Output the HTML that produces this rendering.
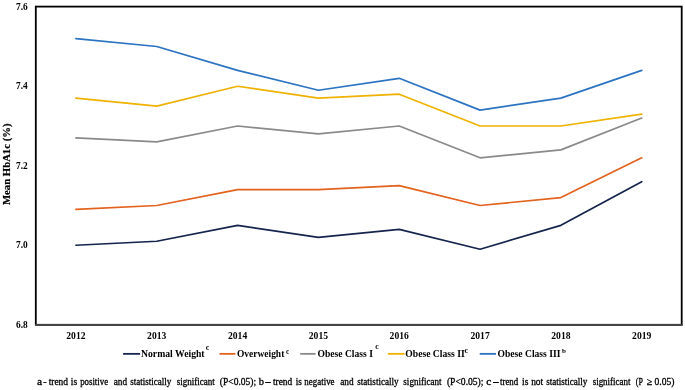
<!DOCTYPE html><html><head><meta charset="utf-8"><style>html,body{margin:0;padding:0;background:#fff;width:685px;height:390px;overflow:hidden}svg{display:block;will-change:transform}text{font-family:"Liberation Serif",serif}</style></head><body>
<svg width="685" height="390" viewBox="0 0 685 390">
<rect x="35.8" y="6.6" width="645.9" height="318.2" fill="none" stroke="#000" stroke-width="1.8"/>
<line x1="35" y1="324.9" x2="682.5" y2="324.9" stroke="#444" stroke-width="1.8"/>
<text x="27.8" y="9.6" font-size="10" font-weight="bold" text-anchor="end" textLength="11.7" lengthAdjust="spacingAndGlyphs">7.6</text>
<text x="27.8" y="89.1" font-size="10" font-weight="bold" text-anchor="end" textLength="11.7" lengthAdjust="spacingAndGlyphs">7.4</text>
<text x="27.8" y="168.6" font-size="10" font-weight="bold" text-anchor="end" textLength="11.7" lengthAdjust="spacingAndGlyphs">7.2</text>
<text x="27.8" y="248.1" font-size="10" font-weight="bold" text-anchor="end" textLength="11.7" lengthAdjust="spacingAndGlyphs">7.0</text>
<text x="27.8" y="327.6" font-size="10" font-weight="bold" text-anchor="end" textLength="11.7" lengthAdjust="spacingAndGlyphs">6.8</text>
<text transform="translate(9.6,205.0) rotate(-90)" font-size="9.8" font-weight="bold" stroke="#000" stroke-width="0.2" textLength="81.5" lengthAdjust="spacingAndGlyphs">Mean HbA1c (%)</text>
<text x="75.9" y="339.3" font-size="9.6" font-weight="bold" text-anchor="middle">2012</text>
<text x="156.7" y="339.3" font-size="9.6" font-weight="bold" text-anchor="middle">2013</text>
<text x="237.6" y="339.3" font-size="9.6" font-weight="bold" text-anchor="middle">2014</text>
<text x="318.4" y="339.3" font-size="9.6" font-weight="bold" text-anchor="middle">2015</text>
<text x="399.2" y="339.3" font-size="9.6" font-weight="bold" text-anchor="middle">2016</text>
<text x="480.1" y="339.3" font-size="9.6" font-weight="bold" text-anchor="middle">2017</text>
<text x="560.9" y="339.3" font-size="9.6" font-weight="bold" text-anchor="middle">2018</text>
<text x="641.7" y="339.3" font-size="9.6" font-weight="bold" text-anchor="middle">2019</text>
<polyline points="75.91,245.25 156.75,241.27 237.57,225.37 318.40,237.30 399.24,229.35 480.06,249.22 560.89,225.37 641.72,181.65" fill="none" stroke="#14244c" stroke-width="1.7" stroke-linejoin="round" stroke-linecap="round"/>
<polyline points="75.91,209.47 156.75,205.50 237.57,189.60 318.40,189.60 399.24,185.62 480.06,205.50 560.89,197.55 641.72,157.80" fill="none" stroke="#e2621e" stroke-width="1.7" stroke-linejoin="round" stroke-linecap="round"/>
<polyline points="75.91,137.93 156.75,141.90 237.57,126.00 318.40,133.95 399.24,126.00 480.06,157.80 560.89,149.85 641.72,118.05" fill="none" stroke="#8a8a8a" stroke-width="1.7" stroke-linejoin="round" stroke-linecap="round"/>
<polyline points="75.91,98.17 156.75,106.12 237.57,86.25 318.40,98.17 399.24,94.20 480.06,126.00 560.89,126.00 641.72,114.07" fill="none" stroke="#efb200" stroke-width="1.7" stroke-linejoin="round" stroke-linecap="round"/>
<polyline points="75.91,38.55 156.75,46.50 237.57,70.35 318.40,90.22 399.24,78.30 480.06,110.10 560.89,98.17 641.72,70.35" fill="none" stroke="#2c73c2" stroke-width="1.7" stroke-linejoin="round" stroke-linecap="round"/>
<line x1="123.1" y1="353.85" x2="140.1" y2="353.85" stroke="#14244c" stroke-width="1.8"/>
<text x="141" y="357.0" font-size="10" font-weight="bold" textLength="63.6" lengthAdjust="spacingAndGlyphs">Normal Weight</text>
<text x="205.7" y="349.8" font-size="8" font-weight="bold">c</text>
<line x1="219.5" y1="353.85" x2="235.4" y2="353.85" stroke="#e2621e" stroke-width="1.8"/>
<text x="237" y="357.0" font-size="10" font-weight="bold" textLength="47.3" lengthAdjust="spacingAndGlyphs">Overweight</text>
<text x="286.0" y="353.5" font-size="7.3" font-weight="bold">c</text>
<line x1="300.2" y1="353.85" x2="315.6" y2="353.85" stroke="#8a8a8a" stroke-width="1.8"/>
<text x="317.5" y="357.0" font-size="10" font-weight="bold" textLength="55.4" lengthAdjust="spacingAndGlyphs">Obese Class I</text>
<text x="375.2" y="348.8" font-size="8" font-weight="bold">c</text>
<line x1="387.8" y1="353.85" x2="404.5" y2="353.85" stroke="#efb200" stroke-width="1.8"/>
<text x="405.3" y="357.0" font-size="10" font-weight="bold" textLength="59.4" lengthAdjust="spacingAndGlyphs">Obese Class II</text>
<text x="464.6" y="353.1" font-size="8" font-weight="bold">c</text>
<line x1="479.7" y1="353.85" x2="496" y2="353.85" stroke="#2c73c2" stroke-width="1.8"/>
<text x="497.6" y="357.0" font-size="10" font-weight="bold" textLength="62.8" lengthAdjust="spacingAndGlyphs">Obese Class III</text>
<text x="562.0" y="353.4" font-size="7" font-weight="bold">b</text>
<text x="36.95" y="384.6" font-size="10" stroke="#000" stroke-width="0.3" textLength="5.10" lengthAdjust="spacingAndGlyphs">a</text>
<text x="43.35" y="384.6" font-size="10" stroke="#000" stroke-width="0.3" textLength="3.40" lengthAdjust="spacingAndGlyphs">-</text>
<text x="48.65" y="384.6" font-size="10" stroke="#000" stroke-width="0.3" textLength="19.40" lengthAdjust="spacingAndGlyphs">trend</text>
<text x="70.75" y="384.6" font-size="10" stroke="#000" stroke-width="0.3" textLength="6.40" lengthAdjust="spacingAndGlyphs">is</text>
<text x="80.15" y="384.6" font-size="10" stroke="#000" stroke-width="0.3" textLength="27.90" lengthAdjust="spacingAndGlyphs">positive</text>
<text x="113.75" y="384.6" font-size="10" stroke="#000" stroke-width="0.3" textLength="13.40" lengthAdjust="spacingAndGlyphs">and</text>
<text x="130.35" y="384.6" font-size="10" stroke="#000" stroke-width="0.3" textLength="40.90" lengthAdjust="spacingAndGlyphs">statistically</text>
<text x="176.75" y="384.6" font-size="10" stroke="#000" stroke-width="0.3" textLength="38.10" lengthAdjust="spacingAndGlyphs">significant</text>
<text x="219.85" y="384.6" font-size="10" stroke="#000" stroke-width="0.3" textLength="36.30" lengthAdjust="spacingAndGlyphs">(P&lt;0.05);</text>
<text x="258.65" y="384.6" font-size="10" stroke="#000" stroke-width="0.3" textLength="5.20" lengthAdjust="spacingAndGlyphs">b</text>
<text x="265.55" y="384.6" font-size="10" stroke="#000" stroke-width="0.3" textLength="5.10" lengthAdjust="spacingAndGlyphs">–</text>
<text x="272.95" y="384.6" font-size="10" stroke="#000" stroke-width="0.3" textLength="19.30" lengthAdjust="spacingAndGlyphs">trend</text>
<text x="295.75" y="384.6" font-size="10" stroke="#000" stroke-width="0.3" textLength="6.20" lengthAdjust="spacingAndGlyphs">is</text>
<text x="304.35" y="384.6" font-size="10" stroke="#000" stroke-width="0.3" textLength="30.20" lengthAdjust="spacingAndGlyphs">negative</text>
<text x="340.25" y="384.6" font-size="10" stroke="#000" stroke-width="0.3" textLength="13.40" lengthAdjust="spacingAndGlyphs">and</text>
<text x="357.25" y="384.6" font-size="10" stroke="#000" stroke-width="0.3" textLength="41.30" lengthAdjust="spacingAndGlyphs">statistically</text>
<text x="403.35" y="384.6" font-size="10" stroke="#000" stroke-width="0.3" textLength="38.30" lengthAdjust="spacingAndGlyphs">significant</text>
<text x="446.95" y="384.6" font-size="10" stroke="#000" stroke-width="0.3" textLength="36.50" lengthAdjust="spacingAndGlyphs">(P&lt;0.05);</text>
<text x="486.35" y="384.6" font-size="10" stroke="#000" stroke-width="0.3" textLength="5.10" lengthAdjust="spacingAndGlyphs">c</text>
<text x="493.35" y="384.6" font-size="10" stroke="#000" stroke-width="0.3" textLength="5.30" lengthAdjust="spacingAndGlyphs">–</text>
<text x="499.95" y="384.6" font-size="10" stroke="#000" stroke-width="0.3" textLength="18.30" lengthAdjust="spacingAndGlyphs">trend</text>
<text x="522.05" y="384.6" font-size="10" stroke="#000" stroke-width="0.3" textLength="6.30" lengthAdjust="spacingAndGlyphs">is</text>
<text x="531.15" y="384.6" font-size="10" stroke="#000" stroke-width="0.3" textLength="12.10" lengthAdjust="spacingAndGlyphs">not</text>
<text x="546.15" y="384.6" font-size="10" stroke="#000" stroke-width="0.3" textLength="41.20" lengthAdjust="spacingAndGlyphs">statistically</text>
<text x="592.65" y="384.6" font-size="10" stroke="#000" stroke-width="0.3" textLength="37.90" lengthAdjust="spacingAndGlyphs">significant</text>
<text x="635.75" y="384.6" font-size="10" stroke="#000" stroke-width="0.3" textLength="7.10" lengthAdjust="spacingAndGlyphs">(P</text>
<text x="646.75" y="384.6" font-size="10" stroke="#000" stroke-width="0.3" textLength="5.50" lengthAdjust="spacingAndGlyphs">≥</text>
<text x="654.55" y="384.6" font-size="10" stroke="#000" stroke-width="0.3" textLength="19.90" lengthAdjust="spacingAndGlyphs">0.05)</text>
</svg></body></html>
